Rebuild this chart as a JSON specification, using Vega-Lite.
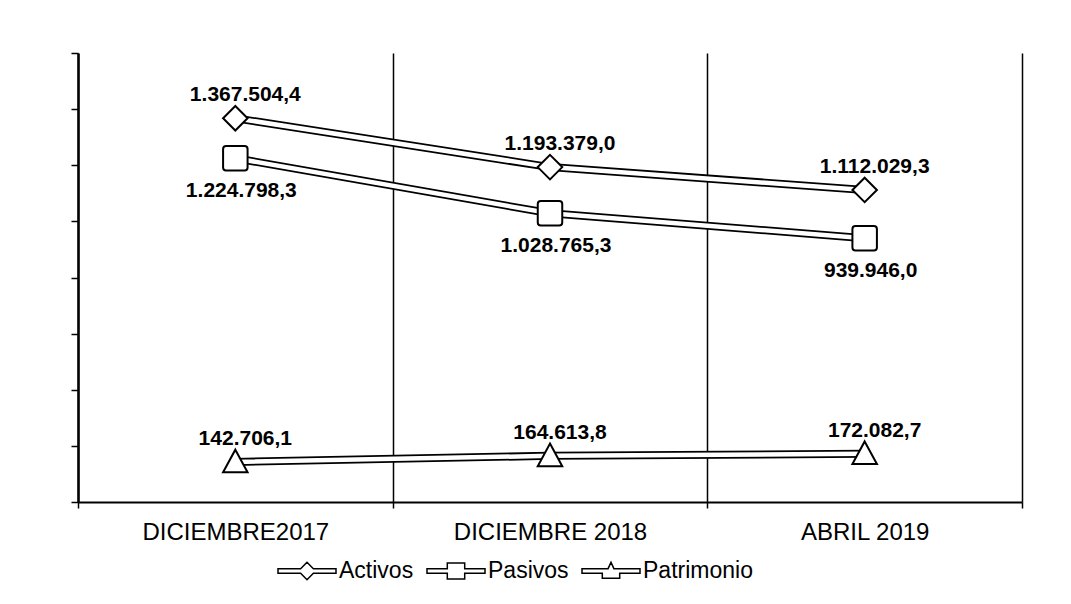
{
  "$schema": "https://vega.github.io/schema/vega-lite/v6.json",
  "width": 944,
  "height": 449,
  "autosize": {"type": "none"},
  "padding": {"left": 78, "top": 53, "right": 49, "bottom": 102},
  "background": "white",
  "config": {
    "view": {"stroke": null},
    "locale": {"number": {"decimal": ",", "thousands": ".", "grouping": [3], "currency": ["", ""]}},
    "font": "Liberation Sans"
  },
  "data": {
    "values": [
      {"periodo": "DICIEMBRE2017", "serie": "Activos", "valor": 1367504.4},
      {"periodo": "DICIEMBRE 2018", "serie": "Activos", "valor": 1193379.0},
      {"periodo": "ABRIL 2019", "serie": "Activos", "valor": 1112029.3},
      {"periodo": "DICIEMBRE2017", "serie": "Pasivos", "valor": 1224798.3},
      {"periodo": "DICIEMBRE 2018", "serie": "Pasivos", "valor": 1028765.3},
      {"periodo": "ABRIL 2019", "serie": "Pasivos", "valor": 939946.0},
      {"periodo": "DICIEMBRE2017", "serie": "Patrimonio", "valor": 142706.1},
      {"periodo": "DICIEMBRE 2018", "serie": "Patrimonio", "valor": 164613.8},
      {"periodo": "ABRIL 2019", "serie": "Patrimonio", "valor": 172082.7}
    ]
  },
  "encoding": {
    "x": {
      "field": "periodo",
      "type": "nominal",
      "sort": ["DICIEMBRE2017", "DICIEMBRE 2018", "ABRIL 2019"],
      "scale": {"type": "band", "paddingInner": 0, "paddingOuter": 0},
      "bandPosition": 0.5,
      "axis": {
        "title": null,
        "labelAngle": 0,
        "labelLimit": 0,
        "labelFont": "Liberation Sans",
        "labelFontSize": 24,
        "labelColor": "black",
        "labelPadding": 12,
        "tickBand": "extent",
        "tickSize": 6,
        "tickColor": "black",
        "tickWidth": 1.5,
        "domainColor": "black",
        "domainWidth": 2,
        "grid": true,
        "gridColor": "black",
        "gridWidth": 1.5,
        "gridOpacity": 1
      }
    },
    "y": {
      "field": "valor",
      "type": "quantitative",
      "scale": {"domain": [0, 1600000], "nice": false},
      "axis": {
        "title": null,
        "labels": false,
        "grid": false,
        "values": [0, 200000, 400000, 600000, 800000, 1000000, 1200000, 1400000, 1600000],
        "tickSize": 7,
        "tickColor": "black",
        "tickWidth": 1.5,
        "domainColor": "black",
        "domainWidth": 2.5
      }
    }
  },
  "layer": [
    {
      "mark": {"type": "line", "color": "black", "strokeWidth": 8},
      "encoding": {"detail": {"field": "serie"}}
    },
    {
      "mark": {"type": "line", "color": "white", "strokeWidth": 4.5},
      "encoding": {"detail": {"field": "serie"}}
    },
    {
      "mark": {"type": "point", "filled": true, "fill": "white", "stroke": "black", "strokeWidth": 2, "size": 600, "opacity": 1},
      "encoding": {
        "shape": {
          "field": "serie",
          "type": "nominal",
          "scale": {
            "domain": ["Activos", "Pasivos", "Patrimonio"],
            "range": [
              "M0,-1L1,0L0,1L-1,0Z",
              "M-0.75,-1L0.75,-1Q1,-1,1,-0.75L1,0.75Q1,1,0.75,1L-0.75,1Q-1,1,-1,0.75L-1,-0.75Q-1,-1,-0.75,-1Z",
              "M0,-1L1,0.85L-1,0.85Z"
            ]
          },
          "legend": null
        }
      }
    },
    {
      "transform": [{"filter": "datum.serie !== 'Pasivos'"}],
      "mark": {"type": "text", "font": "Liberation Sans", "fontWeight": "bold", "fontSize": 21, "color": "black", "dy": -23, "dx": 10},
      "encoding": {"text": {"field": "valor", "type": "quantitative", "format": ",.1f"}}
    },
    {
      "transform": [{"filter": "datum.serie === 'Pasivos'"}],
      "mark": {"type": "text", "font": "Liberation Sans", "fontWeight": "bold", "fontSize": 21, "color": "black", "dy": 33, "dx": 6},
      "encoding": {"text": {"field": "valor", "type": "quantitative", "format": ",.1f"}}
    },
    {
      "transform": [{"filter": "false"}],
      "mark": {"type": "point", "filled": false, "fill": "white", "stroke": "black", "strokeWidth": 2, "opacity": 1},
      "encoding": {
        "shape": {
          "field": "serie",
          "type": "nominal",
          "scale": {
            "domain": ["Activos", "Pasivos", "Patrimonio"],
            "range": [
              "M-1,-0.08L-0.22,-0.08L0,-0.3L0.22,-0.08L1,-0.08L1,0.08L0.22,0.08L0,0.3L-0.22,0.08L-1,0.08Z",
              "M-1,-0.08L-0.3,-0.08L-0.3,-0.28L0.3,-0.28L0.3,-0.08L1,-0.08L1,0.08L0.3,0.08L0.3,0.28L-0.3,0.28L-0.3,0.08L-1,0.08Z",
              "M-1,-0.08L-0.1,-0.08L0,-0.3L0.1,-0.08L1,-0.08L1,0.08L0.3,0.08L0.3,0.25L-0.3,0.25L-0.3,0.08L-1,0.08Z"
            ]
          },
          "legend": {
            "title": null,
            "orient": "none",
            "legendX": 199,
            "legendY": 488,
            "direction": "horizontal",
            "labelFont": "Liberation Sans",
            "labelFontSize": 23,
            "labelColor": "black",
            "symbolSize": 3364,
            "labelOffset": 2,
            "columnPadding": 10,
            "padding": 0,
            "encode": {
              "symbols": {
                "update": {
                  "fill": {"value": "white"},
                  "stroke": {"value": "black"},
                  "strokeWidth": {"value": 2},
                  "opacity": {"value": 1},
                  "fillOpacity": {"value": 1},
                  "strokeOpacity": {"value": 1}
                }
              }
            }
          }
        }
      }
    }
  ],
  "resolve": {"scale": {"shape": "independent"}, "legend": {"shape": "independent"}}
}
